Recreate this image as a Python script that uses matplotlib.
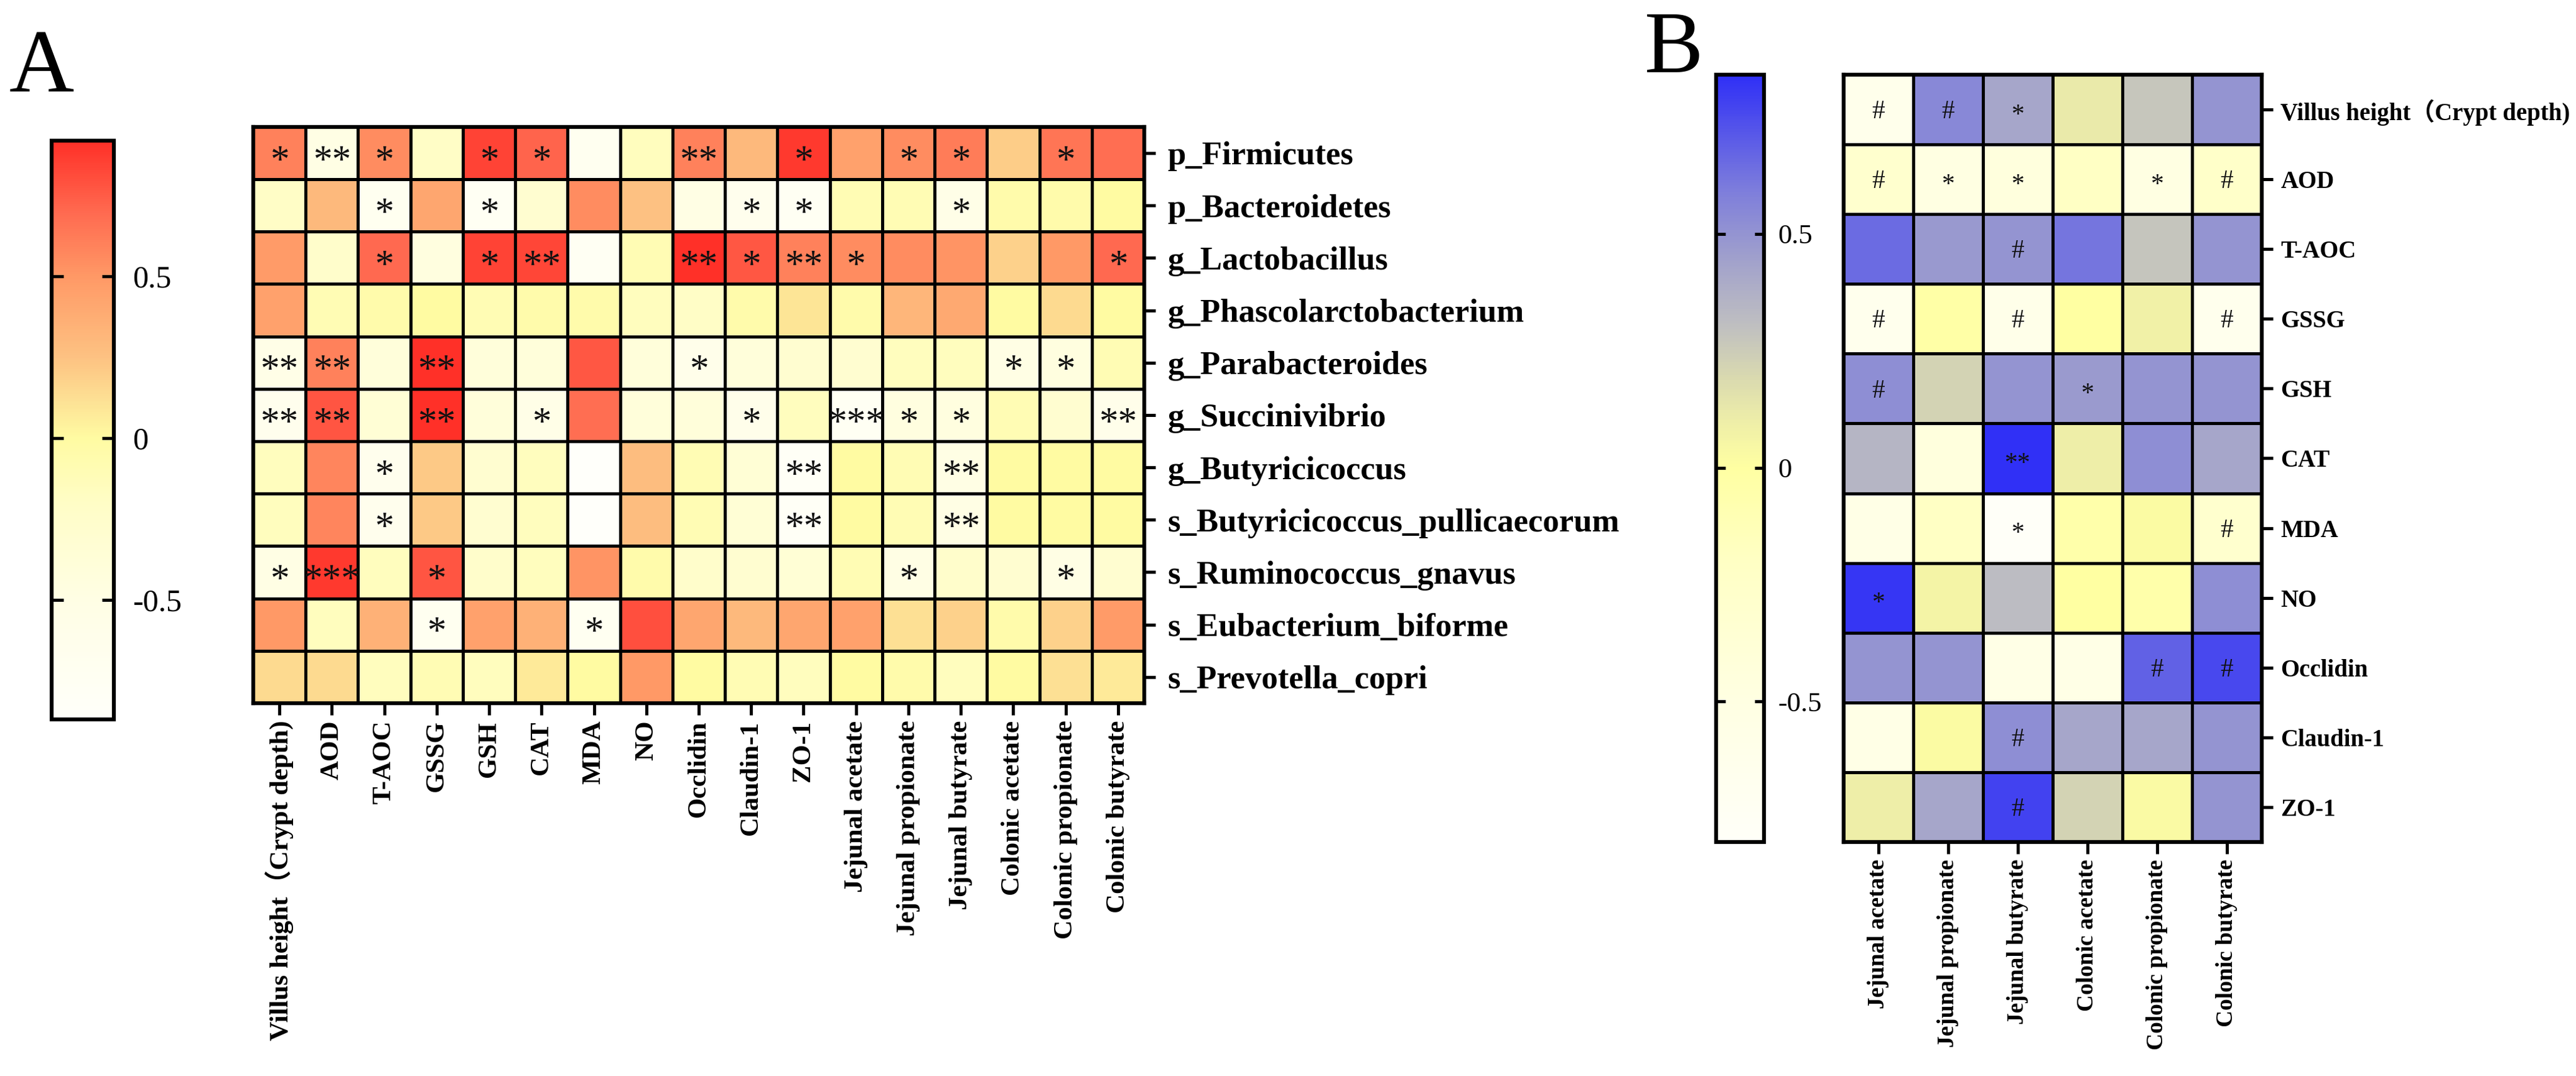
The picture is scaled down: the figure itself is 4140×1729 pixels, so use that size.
import numpy as np
import matplotlib
matplotlib.use('Agg')
import matplotlib.pyplot as plt
from matplotlib.colors import LinearSegmentedColormap

plt.rcParams['font.family'] = ['Liberation Serif', 'Noto Sans CJK SC', 'DejaVu Sans']

# ---- panel A data ----
a_cols = ['Villus height（Crypt depth)', 'AOD', 'T-AOC', 'GSSG', 'GSH', 'CAT', 'MDA', 'NO',
          'Occlidin', 'Claudin-1', 'ZO-1', 'Jejunal acetate', 'Jejunal propionate',
          'Jejunal butyrate', 'Colonic acetate', 'Colonic propionate', 'Colonic butyrate']
a_rows = ['p_Firmicutes', 'p_Bacteroidetes', 'g_Lactobacillus', 'g_Phascolarctobacterium',
          'g_Parabacteroides', 'g_Succinivibrio', 'g_Butyricicoccus',
          's_Butyricicoccus_pullicaecorum', 's_Ruminococcus_gnavus', 's_Eubacterium_biforme',
          's_Prevotella_copri']
a_vals = np.array([
    [0.60, -0.50, 0.55, -0.20, 0.85, 0.72, -0.70, -0.15, 0.60, 0.30, 0.88, 0.45, 0.55, 0.62, 0.20, 0.65, 0.68],
    [-0.20, 0.30, -0.70, 0.42, -0.75, -0.30, 0.55, 0.25, -0.50, -0.65, -0.75, -0.10, -0.10, -0.55, -0.05, -0.05, 0.00],
    [0.48, -0.25, 0.70, -0.45, 0.85, 0.83, -0.75, -0.10, 0.92, 0.77, 0.60, 0.55, 0.55, 0.52, 0.18, 0.50, 0.70],
    [0.45, -0.10, -0.05, 0.00, -0.10, -0.05, -0.05, -0.15, -0.20, -0.05, 0.10, -0.05, 0.32, 0.40, 0.00, 0.15, 0.00],
    [-0.55, 0.60, -0.40, 0.92, -0.40, -0.40, 0.77, -0.40, -0.60, -0.40, -0.30, -0.30, -0.15, -0.15, -0.50, -0.45, -0.10],
    [-0.65, 0.78, -0.35, 0.92, -0.40, -0.55, 0.68, -0.40, -0.40, -0.60, -0.15, -0.75, -0.45, -0.45, -0.10, -0.30, -0.60],
    [-0.15, 0.58, -0.65, 0.22, -0.30, -0.15, -0.87, 0.28, -0.10, -0.35, -0.80, 0.00, -0.10, -0.50, 0.00, 0.00, 0.00],
    [-0.15, 0.58, -0.65, 0.22, -0.30, -0.15, -0.87, 0.28, -0.10, -0.35, -0.80, 0.00, -0.10, -0.50, 0.00, 0.00, 0.00],
    [-0.50, 0.88, -0.15, 0.78, -0.25, -0.15, 0.52, -0.05, -0.25, -0.30, -0.35, -0.10, -0.50, -0.25, -0.30, -0.50, -0.30],
    [0.50, -0.15, 0.35, -0.70, 0.45, 0.35, -0.72, 0.80, 0.42, 0.30, 0.42, 0.45, 0.12, 0.18, -0.05, 0.18, 0.48],
    [0.15, 0.15, -0.15, -0.10, -0.15, 0.08, 0.00, 0.50, 0.00, -0.10, -0.15, 0.00, -0.05, -0.15, 0.00, 0.12, 0.08],
])
a_sig = [
    ['*', '**', '*', '', '*', '*', '', '', '**', '', '*', '', '*', '*', '', '*', ''],
    ['', '', '*', '', '*', '', '', '', '', '*', '*', '', '', '*', '', '', ''],
    ['', '', '*', '', '*', '**', '', '', '**', '*', '**', '*', '', '', '', '', '*'],
    ['', '', '', '', '', '', '', '', '', '', '', '', '', '', '', '', ''],
    ['**', '**', '', '**', '', '', '', '', '*', '', '', '', '', '', '*', '*', ''],
    ['**', '**', '', '**', '', '*', '', '', '', '*', '', '***', '*', '*', '', '', '**'],
    ['', '', '*', '', '', '', '', '', '', '', '**', '', '', '**', '', '', ''],
    ['', '', '*', '', '', '', '', '', '', '', '**', '', '', '**', '', '', ''],
    ['*', '***', '', '*', '', '', '', '', '', '', '', '', '*', '', '', '*', ''],
    ['', '', '', '*', '', '', '*', '', '', '', '', '', '', '', '', '', ''],
    ['', '', '', '', '', '', '', '', '', '', '', '', '', '', '', '', ''],
]
a_range = (-0.87, 0.92)

# ---- panel B data ----
b_cols = ['Jejunal acetate', 'Jejunal propionate', 'Jejunal butyrate',
          'Colonic acetate', 'Colonic propionate', 'Colonic butyrate']
b_rows = ['Villus height（Crypt depth)', 'AOD', 'T-AOC', 'GSSG', 'GSH', 'CAT', 'MDA', 'NO',
          'Occlidin', 'Claudin-1', 'ZO-1']
b_vals = np.array([
    [-0.62, 0.55, 0.42, 0.12, 0.27, 0.50],
    [-0.30, -0.50, -0.45, -0.20, -0.50, -0.25],
    [0.65, 0.48, 0.50, 0.62, 0.28, 0.50],
    [-0.65, -0.02, -0.60, 0.00, 0.08, -0.65],
    [0.52, 0.22, 0.50, 0.47, 0.50, 0.50],
    [0.35, -0.45, 0.84, 0.10, 0.52, 0.42],
    [-0.55, -0.20, -0.80, -0.05, 0.02, -0.30],
    [0.82, 0.06, 0.32, 0.00, -0.05, 0.52],
    [0.50, 0.50, -0.55, -0.55, 0.68, 0.76],
    [-0.55, 0.02, 0.52, 0.42, 0.42, 0.50],
    [0.10, 0.42, 0.78, 0.22, 0.03, 0.50],
])
b_sig = [
    ['#', '#', '*', '', '', ''],
    ['#', '*', '*', '', '*', '#'],
    ['', '', '#', '', '', ''],
    ['#', '', '#', '', '', '#'],
    ['#', '', '', '*', '', ''],
    ['', '', '**', '', '', ''],
    ['', '', '*', '', '', '#'],
    ['*', '', '', '', '', ''],
    ['', '', '', '', '#', '#'],
    ['', '', '#', '', '', ''],
    ['', '', '#', '', '', ''],
]
b_range = (-0.80, 0.84)


def make_cmap(name, vr, nodes):
    lo, hi = vr
    return LinearSegmentedColormap.from_list(name, [((v - lo) / (hi - lo), c) for v, c in nodes])


cmap_a = make_cmap('warm', a_range, [(-0.87, '#FFFFFA'), (-0.5, '#FFFEE4'), (-0.2, '#FFFDC6'),
                                     (0.0, '#FFFBA2'), (0.12, '#FDE094'), (0.25, '#FDC282'),
                                     (0.5, '#FF9966'), (0.7, '#FF6A50'), (0.92, '#FF3028')])
cmap_b = make_cmap('cool', b_range, [(-0.80, '#FFFFF8'), (-0.5, '#FFFFE2'), (-0.2, '#FFFFC4'),
                                     (0.0, '#FFFFA2'), (0.1, '#EEEEA8'), (0.2, '#D8D8B0'),
                                     (0.3, '#C0C0C0'), (0.45, '#A0A0CC'), (0.6, '#7C7CDC'),
                                     (0.84, '#3030F6')])


def heat(ax, vals, sig, cmap, vr, xlabels, ylabels, xfs, yfs, sfs, ypad):
    nr, nc = vals.shape
    m = ax.pcolormesh(np.arange(nc + 1), np.arange(nr + 1), vals, cmap=cmap,
                      vmin=vr[0], vmax=vr[1], edgecolors='black', linewidth=2.2)
    ax.set_xlim(0, nc)
    ax.set_ylim(nr, 0)
    ax.set_xticks(np.arange(nc) + 0.5)
    ax.set_xticklabels(xlabels, rotation=90, fontweight='bold', fontsize=xfs)
    ax.yaxis.tick_right()
    ax.set_yticks(np.arange(nr) + 0.5)
    ax.set_yticklabels(ylabels, fontweight='bold', fontsize=yfs)
    ax.tick_params(axis='x', length=14, width=3.6, pad=6)
    ax.tick_params(axis='y', length=13, width=3.6, pad=ypad)
    for s in ax.spines.values():
        s.set_linewidth(4.5)
    for i in range(nr):
        for j in range(nc):
            t = sig[i][j]
            if not t:
                continue
            off = -0.47 * sfs if '*' in t else -0.34 * sfs
            ax.annotate(t, (j + 0.5, i + 0.5), xytext=(0, off), textcoords='offset points',
                        ha='center', va='baseline', fontsize=sfs, color='#111111')
    return m


def cbar(fig, m, cax, fs, tl, pad):
    cb = fig.colorbar(m, cax=cax, ticks=[-0.5, 0, 0.5])
    cb.ax.set_yticklabels(['-0.5', '0', '0.5'], fontsize=fs)
    cb.ax.tick_params(left=True, right=True, direction='in', length=tl, width=3.6, pad=pad)
    cb.outline.set_linewidth(4.5)
    return cb


fig = plt.figure(figsize=(41.4, 17.29), dpi=100)

axA = fig.add_axes([0.0983, 0.3465, 0.3459, 0.5356])
mA = heat(axA, a_vals, a_sig, cmap_a, a_range, a_cols, a_rows, 31, 38, 44, 14)
caxA = fig.add_axes([0.020, 0.3314, 0.0242, 0.5379])
cbar(fig, mA, caxA, 36, 14, 22)

axB = fig.add_axes([0.7157, 0.2175, 0.1623, 0.7131])
mB = heat(axB, b_vals, b_sig, cmap_b, b_range, b_cols, b_rows, 27, 28, 30, 9)
caxB = fig.add_axes([0.6662, 0.2175, 0.0186, 0.7131])
cbar(fig, mB, caxB, 32, 11, 16)

fig.text(0.0036, 0.915, 'A', fontsize=104, va='baseline', ha='left')
fig.text(0.6384, 0.933, 'B', fontsize=102, va='baseline', ha='left')

fig.savefig('out.png', dpi=100, facecolor='white')
